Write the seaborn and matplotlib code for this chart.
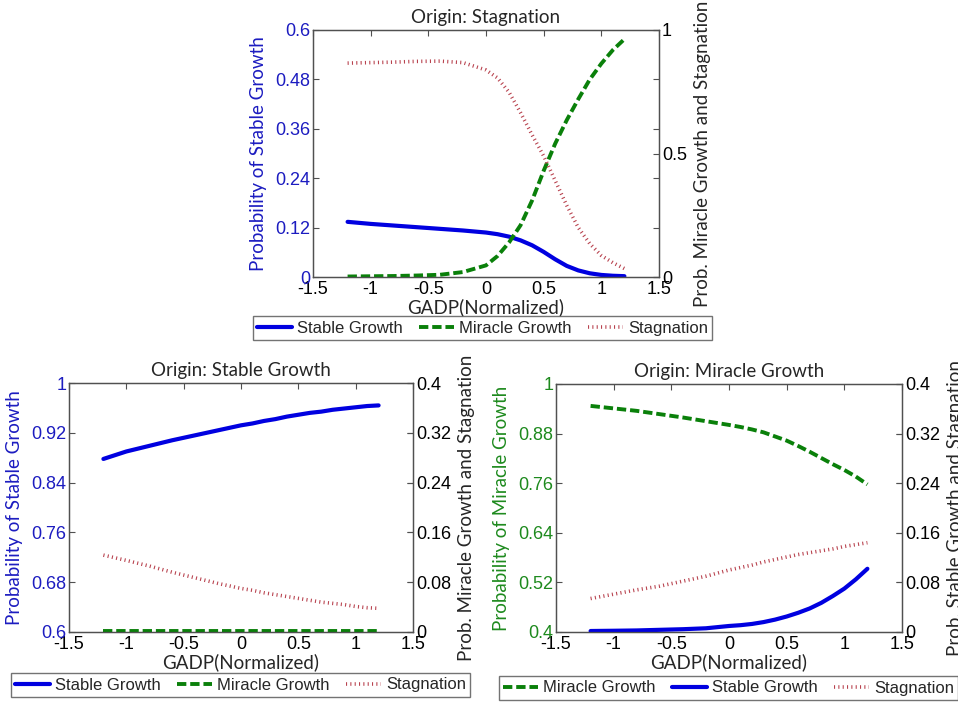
import matplotlib
matplotlib.use("Agg")
import matplotlib.pyplot as plt
import seaborn as sns
import pandas as pd

sns.set_style("white")
plt.rcParams["font.family"] = ["Liberation Sans", "DejaVu Sans"]

# GADP (normalized) sample points shared by all panels
gadp = [-1.2, -1.0, -0.8, -0.6, -0.4, -0.2, 0.0, 0.1, 0.2, 0.3, 0.4, 0.5,
        0.6, 0.7, 0.8, 0.9, 1.0, 1.1, 1.2]

# Origin: Stagnation
stag_stable = [0.134, 0.129, 0.125, 0.121, 0.117, 0.113, 0.108, 0.104, 0.098, 0.089,
               0.077, 0.061, 0.043, 0.027, 0.016, 0.009, 0.005, 0.003, 0.002]
stag_miracle = [0.002, 0.003, 0.004, 0.006, 0.009, 0.020, 0.047, 0.085, 0.14, 0.21,
                0.31, 0.43, 0.54, 0.635, 0.72, 0.80, 0.864, 0.919, 0.963]
stag_stag = [0.866, 0.868, 0.870, 0.873, 0.874, 0.868, 0.838, 0.806, 0.748, 0.665,
             0.575, 0.49, 0.39, 0.29, 0.20, 0.135, 0.087, 0.058, 0.034]

# Origin: Stable Growth
sg_stable = [0.878, 0.890, 0.899, 0.908, 0.916, 0.924, 0.932, 0.935, 0.939, 0.942,
             0.946, 0.949, 0.952, 0.954, 0.957, 0.959, 0.961, 0.963, 0.964]
sg_miracle = [0.001, 0.001, 0.001, 0.001, 0.001, 0.001, 0.001, 0.001, 0.001, 0.001,
              0.001, 0.001, 0.001, 0.001, 0.001, 0.001, 0.001, 0.001, 0.001]
sg_stag = [0.1235, 0.115, 0.106, 0.096, 0.087, 0.078, 0.070, 0.067, 0.063, 0.060,
           0.057, 0.054, 0.051, 0.048, 0.046, 0.044, 0.041, 0.039, 0.038]

# Origin: Miracle Growth
mg_miracle = [0.947, 0.941, 0.935, 0.927, 0.919, 0.910, 0.901, 0.896, 0.890, 0.883,
              0.873, 0.863, 0.850, 0.836, 0.821, 0.806, 0.792, 0.776, 0.757]
mg_stable = [0.0016, 0.002, 0.0025, 0.0035, 0.0045, 0.006, 0.0097, 0.011, 0.013, 0.016,
             0.020, 0.025, 0.031, 0.038, 0.047, 0.058, 0.070, 0.085, 0.102]
mg_stag = [0.054, 0.061, 0.068, 0.074, 0.082, 0.090, 0.100, 0.104, 0.108, 0.113,
           0.117, 0.121, 0.125, 0.128, 0.131, 0.134, 0.138, 0.141, 0.144]

xticks = [-1.5, -1, -0.5, 0, 0.5, 1, 1.5]
xtick_labels = ["-1.5", "-1", "-0.5", "0", "0.5", "1", "1.5"]

BLUE = "#0000e0"
GREEN = "#0a800a"
RED = "#b8424e"
SPINE = "#505050"
LABEL_FONT = ["Lato", "DejaVu Sans"]

STYLES = {
    "Stable Growth": dict(color=BLUE, linewidth=3.0, linestyle="-"),
    "Miracle Growth": dict(color=GREEN, linewidth=2.8, linestyle=(0, (2.4, 1.0))),
    "Stagnation": dict(color=RED, linewidth=2.6, linestyle=(0, (0.3, 0.9))),
}


def panel(fig, rect, title, left_name, left_vals, left_ticks, left_labels, left_color,
          left_ylabel, right_series, right_ticks, right_labels, right_ylabel,
          legend_order, legend_center):
    ax = fig.add_axes(rect)
    ax2 = ax.twinx()
    df = pd.DataFrame({"x": gadp, "y": left_vals})
    sns.lineplot(data=df, x="x", y="y", ax=ax, label=left_name, legend=False,
                 **STYLES[left_name])
    for name, vals in right_series.items():
        d = pd.DataFrame({"x": gadp, "y": vals})
        sns.lineplot(data=d, x="x", y="y", ax=ax2, label=name, legend=False,
                     **STYLES[name])

    ax.set_xlim(-1.5, 1.5)
    ax.set_xticks(xticks, xtick_labels)
    ax.set_ylim(left_ticks[0], left_ticks[-1])
    ax.set_yticks(left_ticks, left_labels)
    ax2.set_ylim(right_ticks[0], right_ticks[-1])
    ax2.set_yticks(right_ticks, right_labels)

    ax.tick_params(axis="x", direction="in", length=4, top=True, pad=3,
                   labelsize=13, labelcolor="black", color=SPINE)
    ax.tick_params(axis="y", direction="in", length=4, right=True, pad=2,
                   labelsize=13, labelcolor=left_color, color=SPINE)
    ax2.tick_params(axis="y", direction="in", length=4, pad=2, labelsize=13,
                    labelcolor="black", color=SPINE)
    for a in (ax, ax2):
        for s in a.spines.values():
            s.set_color(SPINE)
            s.set_linewidth(0.9)
            s.set_visible(True)

    ax.set_title(title, fontsize=13.5, family=LABEL_FONT, pad=5)
    ax.set_xlabel("GADP(Normalized)", fontsize=13.5, family=LABEL_FONT, labelpad=0)
    ax.set_ylabel(left_ylabel, fontsize=13.5, family=LABEL_FONT, color=left_color,
                  labelpad=6)
    ax2.set_ylabel(right_ylabel, fontsize=13.5, family=LABEL_FONT, labelpad=5)

    handles = {}
    for a in (ax, ax2):
        for ln in a.get_lines():
            handles[ln.get_label()] = ln
    leg = fig.legend([handles[n] for n in legend_order], legend_order, loc="center",
                     bbox_to_anchor=(legend_center[0] / 958, 1 - legend_center[1] / 702),
                     ncol=3, fontsize=12, frameon=True, fancybox=False,
                     handlelength=2.1, handletextpad=0.3, columnspacing=1.0,
                     borderpad=0.25, borderaxespad=0)
    leg.get_frame().set_edgecolor(SPINE)
    leg.get_frame().set_linewidth(1.0)
    return ax, ax2


fig = plt.figure(figsize=(9.58, 7.02), dpi=100)

panel(fig, [313 / 958, 1 - 277 / 702, 346 / 958, 247 / 702], "Origin: Stagnation",
      "Stable Growth", stag_stable,
      [0, 0.12, 0.24, 0.36, 0.48, 0.6], ["0", "0.12", "0.24", "0.36", "0.48", "0.6"],
      "#1c1cc0", "Probability of Stable Growth",
      {"Miracle Growth": stag_miracle, "Stagnation": stag_stag},
      [0, 0.5, 1], ["0", "0.5", "1"], "Prob. Miracle Growth and Stagnation",
      ["Stable Growth", "Miracle Growth", "Stagnation"], (482.5, 328))

panel(fig, [69 / 958, 1 - 632 / 702, 344 / 958, 249 / 702], "Origin: Stable Growth",
      "Stable Growth", sg_stable,
      [0.6, 0.68, 0.76, 0.84, 0.92, 1.0], ["0.6", "0.68", "0.76", "0.84", "0.92", "1"],
      "#1c1cc0", "Probability of Stable Growth",
      {"Miracle Growth": sg_miracle, "Stagnation": sg_stag},
      [0, 0.08, 0.16, 0.24, 0.32, 0.4], ["0", "0.08", "0.16", "0.24", "0.32", "0.4"],
      "Prob. Miracle Growth and Stagnation",
      ["Stable Growth", "Miracle Growth", "Stagnation"], (240.5, 685))

panel(fig, [556 / 958, 1 - 632 / 702, 346 / 958, 248 / 702], "Origin: Miracle Growth",
      "Miracle Growth", mg_miracle,
      [0.4, 0.52, 0.64, 0.76, 0.88, 1.0], ["0.4", "0.52", "0.64", "0.76", "0.88", "1"],
      "#1e8a1e", "Probability of Miracle Growth",
      {"Stable Growth": mg_stable, "Stagnation": mg_stag},
      [0, 0.08, 0.16, 0.24, 0.32, 0.4], ["0", "0.08", "0.16", "0.24", "0.32", "0.4"],
      "Prob. Stable Growth and Stagnation",
      ["Miracle Growth", "Stable Growth", "Stagnation"], (728.5, 688))

fig.savefig("out.png", dpi=100, facecolor="white")
plt.close(fig)
